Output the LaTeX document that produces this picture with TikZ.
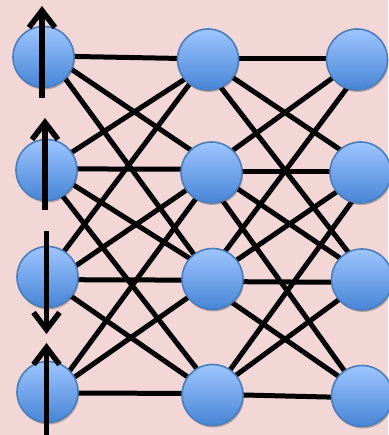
\documentclass[tikz,border=0pt]{standalone}
\usetikzlibrary{arrows.meta,shadows}
\pgfdeclarelayer{back}
\pgfdeclarelayer{bg}
\pgfsetlayers{back,bg,main}
\definecolor{pinkbg}{HTML}{F3D7D7}
\definecolor{ntop}{HTML}{9EC5FF}
\definecolor{nbot}{HTML}{4785D6}
\definecolor{nborder}{HTML}{4A7EBB}
\tikzset{
  neuron/.style={circle, minimum size=61pt, inner sep=0pt, draw=nborder, line width=1.6pt,
    top color=ntop, bottom color=nbot,
    drop shadow={shadow xshift=1pt, shadow yshift=-2pt, opacity=0.25, fill=black}},
  link/.style={line width=5pt, black, shorten <=-6pt, shorten >=-6pt},
  spin/.style={line width=5.5pt, black, -{Straight Barb[length=17pt,width=26pt]}}
}
\begin{document}
\begin{tikzpicture}[x=1pt,y=-1pt]
\begin{pgfonlayer}{back}
\fill[pinkbg] (0,0) rectangle (388,435);
\end{pgfonlayer}
\useasboundingbox (0,0) rectangle (388,435);
% left column
\node[neuron] (l1) at (43.5,57) {};
\node[neuron] (l2) at (46.5,170) {};
\node[neuron] (l3) at (47.5,277) {};
\node[neuron] (l4) at (47.5,392) {};
% middle column
\node[neuron] (m1) at (208,59.5) {};
\node[neuron] (m2) at (211.5,172.5) {};
\node[neuron] (m3) at (212.5,279) {};
\node[neuron] (m4) at (212.5,395) {};
% right column
\node[neuron] (r1) at (357,59.5) {};
\node[neuron] (r2) at (360.5,172.5) {};
\node[neuron] (r3) at (362,279.5) {};
\node[neuron] (r4) at (362,396) {};
\begin{pgfonlayer}{bg}
% left -- middle
\draw[link] (l1.1)   -- (m1.178);
\draw[link] (l1.-24) -- (m2.133);
\draw[link] (l1.-45) -- (m3.127);
\draw[link] (l2.35)  -- (m1.220);
\draw[link] (l2.2)   -- (m2.174);
\draw[link] (l2.-29) -- (m3.138);
\draw[link] (l2.-58) -- (m4.121);
\draw[link] (l3.57)  -- (m1.233);
\draw[link] (l3.22)  -- (m2.215);
\draw[link] (l3.-5)  -- (m3.182);
\draw[link] (l3.-39) -- (m4.144);
\draw[link] (l4.44)  -- (m2.239);
\draw[link] (l4.29)  -- (m3.217);
\draw[link] (l4.-2)  -- (m4.177);
% middle -- right
\draw[link] (m1.2)   -- (r1.178);
\draw[link] (m1.-36) -- (r2.132);
\draw[link] (m1.-65) -- (r3.117);
\draw[link] (m2.46)  -- (r1.217);
\draw[link] (m3.65)  -- (r1.250);
\draw[link] (m2.1)   -- (r2.179);
\draw[link] (m2.-32) -- (r3.136);
\draw[link] (m2.-68) -- (r4.125);
\draw[link] (m3.38)  -- (r2.219);
\draw[link] (m4.55)  -- (r2.253);
\draw[link] (m3.-5)  -- (r3.185);
\draw[link] (m3.-50) -- (r4.140);
\draw[link] (m4.40)  -- (r3.221);
\draw[link] (m4.0)   -- (r4.182);
\end{pgfonlayer}
% spins
\coordinate (s1a) at (42,98);   \coordinate (s1b) at (42,6);
\coordinate (s2a) at (45,210);  \coordinate (s2b) at (45,118);
\coordinate (s3a) at (46.5,231); \coordinate (s3b) at (46.5,334);
\coordinate (s4a) at (46.5,436); \coordinate (s4b) at (46.5,343);
\draw[spin] (s1a) -- (s1b);
\draw[spin] (s2a) -- (s2b);
\draw[spin] (s3a) -- (s3b);
\draw[spin] (s4a) -- (s4b);
\end{tikzpicture}
\end{document}
